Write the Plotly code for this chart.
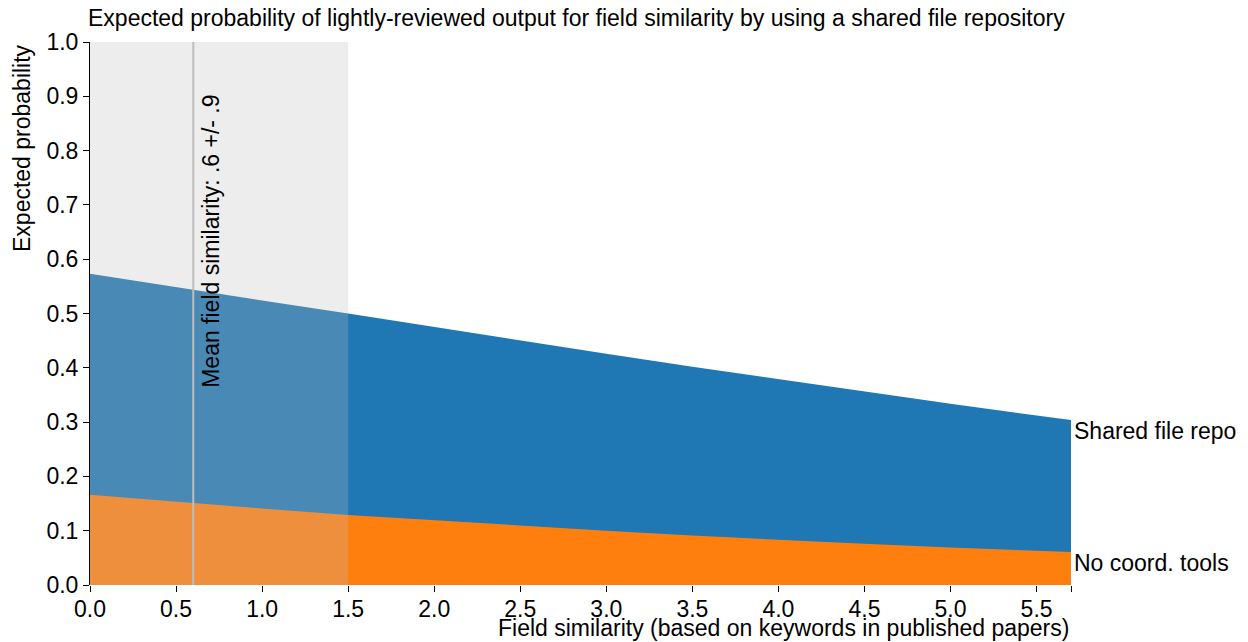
import plotly.graph_objects as go

# field similarity grid and predicted probabilities
similarity = [0.0, 0.5, 1.0, 1.5, 2.0, 2.5, 3.0, 3.5, 4.0, 4.5, 5.0, 5.5, 5.7]
shared_repo = [0.573, 0.548, 0.524, 0.500, 0.475, 0.450, 0.426, 0.402, 0.379, 0.356, 0.334, 0.312, 0.304]
no_tools = [0.166, 0.153, 0.141, 0.129, 0.119, 0.109, 0.100, 0.091, 0.083, 0.076, 0.069, 0.063, 0.061]

series_names = ["Shared file repo", "No coord. tools"]
MEAN_SIM = 0.6
SD_SIM = 0.9

x_ticks = [0.0, 0.5, 1.0, 1.5, 2.0, 2.5, 3.0, 3.5, 4.0, 4.5, 5.0, 5.5, 5.7]
x_ticklabels = ["0.0", "0.5", "1.0", "1.5", "2.0", "2.5", "3.0", "3.5", "4.0", "4.5", "5.0", "5.5", ""]

FONT = "Liberation Sans, Arial, Helvetica, sans-serif"
FS = 23

# the page body has an 8px margin, so the figure is a bit smaller than the window
W, H = 1240, 634

fig = go.Figure()
fig.add_trace(go.Scatter(
    x=similarity, y=shared_repo, name=series_names[0],
    mode="lines", fill="tozeroy", fillcolor="#1f77b4",
    line=dict(width=0, color="#1f77b4"),
))
fig.add_trace(go.Scatter(
    x=similarity, y=no_tools, name=series_names[1],
    mode="lines", fill="tozeroy", fillcolor="#ff7f0e",
    line=dict(width=0, color="#ff7f0e"),
))

# mean +/- sd band, clipped to the axis
fig.add_shape(
    type="rect", xref="x", yref="y",
    x0=max(0, MEAN_SIM - SD_SIM), x1=MEAN_SIM + SD_SIM, y0=0, y1=1,
    fillcolor="rgba(190,190,190,0.27)", line=dict(width=0), layer="above",
)
fig.add_shape(
    type="line", xref="x", yref="y",
    x0=MEAN_SIM, x1=MEAN_SIM, y0=0, y1=1,
    line=dict(color="#bdbdbd", width=2), layer="above",
)
fig.add_annotation(
    x=MEAN_SIM, y=0.906, xref="x", yref="y",
    text="Mean field similarity: .6 +/- .9", textangle=-90,
    showarrow=False, xanchor="left", yanchor="top", xshift=2,
    font=dict(size=FS, color="black"),
)

# end-of-series labels
for name, vals in zip(series_names, [shared_repo, no_tools]):
    fig.add_annotation(
        x=similarity[-1], y=vals[-1], xref="x", yref="y",
        text=name, showarrow=False, xanchor="left", yanchor="middle",
        xshift=1, yshift=-11, font=dict(size=FS, color="black"),
    )

# axis titles, placed like the d3 original
fig.add_annotation(
    x=0, y=1, xref="paper", yref="paper", xshift=-68,
    text="Expected probability", textangle=-90, showarrow=False,
    xanchor="center", yanchor="top", font=dict(size=FS, color="black"),
)
fig.add_annotation(
    x=1, y=0, xref="paper", yref="paper", yshift=-43,
    text="Field similarity (based on keywords in published papers)",
    showarrow=False, xanchor="right", yanchor="middle",
    font=dict(size=FS, color="black"),
)

fig.update_layout(
    width=W, height=H,
    title=dict(
        text="Expected probability of lightly-reviewed output for field similarity by using a shared file repository",
        x=80 / W, xanchor="left", xref="container",
        y=1 - 10 / H, yanchor="middle", yref="container",
        font=dict(size=FS, color="black"),
    ),
    font=dict(family=FONT, size=FS, color="black"),
    plot_bgcolor="white", paper_bgcolor="white",
    showlegend=False,
    margin=dict(l=82, r=177, t=34, b=57),
    xaxis=dict(
        range=[0, 5.7], tickvals=x_ticks, ticktext=x_ticklabels,
        ticks="outside", ticklen=6, tickcolor="black",
        ticklabelstandoff=-3,
        showgrid=False, zeroline=False, showline=False,
        tickfont=dict(size=FS),
    ),
    yaxis=dict(
        range=[0, 1], dtick=0.1, tickformat=".1f",
        ticks="outside", ticklen=6, tickcolor="black",
        showgrid=False, zeroline=False, showline=True, linecolor="black",
        tickfont=dict(size=FS),
    ),
)

fig.write_html("out.html")
